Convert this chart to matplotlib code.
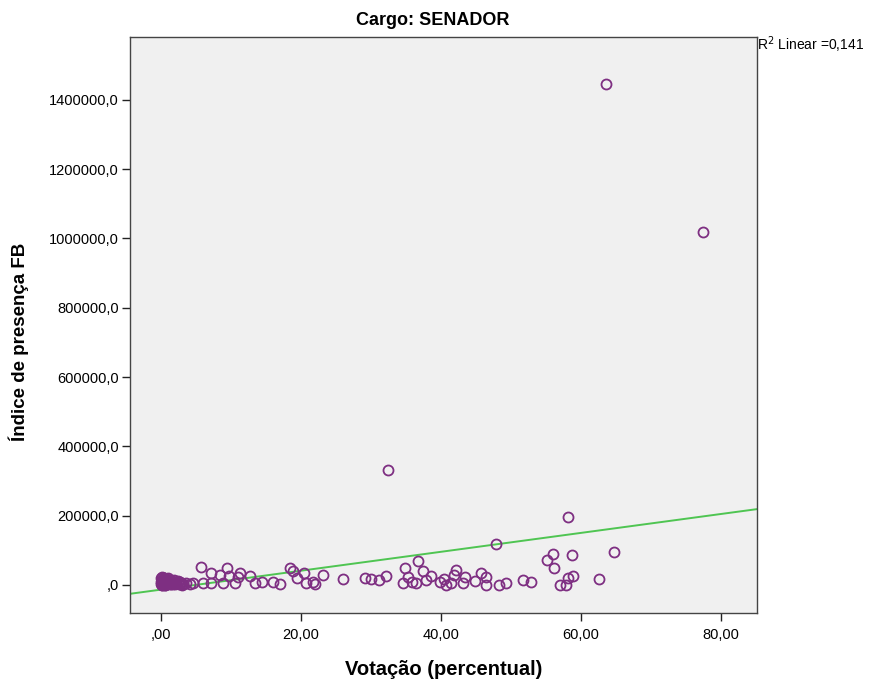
import matplotlib as mpl
mpl.use('Agg')
import matplotlib.pyplot as plt
import numpy as np
from matplotlib.ticker import FuncFormatter

plt.rcParams['font.family'] = ['Liberation Sans', 'DejaVu Sans']

# votacao (%) x indice de presenca FB, candidatos a senador
# grupo denso perto de zero
votos_baixos = [0.05, 0.1, 0.15, 0.2, 0.25, 0.3, 0.35, 0.4, 0.45, 0.5,
                0.55, 0.6, 0.7, 0.8, 0.9, 1.0, 1.1, 1.2, 1.3, 1.4,
                1.5, 1.6, 1.7, 1.8, 2.0, 2.2, 2.4, 0.1, 0.2, 0.3,
                0.4, 0.5, 0.6, 0.8, 1.0, 1.2, 0.15, 0.35, 0.55, 0.75,
                2.6, 2.9, 3.2, 3.6, 4.1, 1.9, 2.1, 2.5, 2.8, 3.0]
indice_baixo = [3000, 9000, 15000, 1000, 12000, 6000, 18000, 2000, 10000, 5000,
                14000, 500, 8000, 16000, 3000, 11000, 6000, 13000, 1500, 9000,
                4000, 12000, 7000, 2500, 10000, 5000, 8000, 20000, 22000, 4000,
                19000, 21000, 9000, 17000, 19000, 15000, 0, 7000, 1000, 11000,
                4000, 6000, 3000, 5000, 4000, 14000, 2000, 11000, 9000, 1000]

# demais candidatos
votos = [5.8, 7.2, 9.4, 8.4, 9.8, 11.3, 11.0, 12.7, 10.6, 8.9,
         7.2, 6.0, 4.6, 13.4, 14.4, 16.0, 17.0, 18.4, 18.9, 20.5,
         19.4, 20.8, 21.7, 22.0, 23.1, 26.0, 29.1, 30.0, 31.2, 32.1,
         34.8, 36.7, 37.4, 35.3, 34.6, 35.8, 36.5, 37.9, 38.6, 39.8,
         40.5, 40.7, 41.5, 42.2, 41.9, 43.4, 43.1, 44.8, 45.7, 46.4,
         46.4, 48.3, 49.3, 51.7, 52.9, 47.9, 58.2, 64.7, 62.6, 55.1,
         56.0, 56.2, 58.7, 57.0, 57.9, 58.2, 58.9, 63.6, 77.4, 32.4]
indice = [51100, 35500, 48200, 28900, 26000, 35500, 24000, 26000, 4900, 6600,
          6600, 6600, 4900, 4900, 9500, 9500, 2900, 48200, 41300, 33800,
          19300, 4900, 9500, 2000, 28900, 16500, 19300, 16500, 14400, 26000,
          48200, 70100, 41300, 24000, 4900, 9500, 6600, 14400, 26000, 9500,
          16500, 0, 4900, 43300, 28900, 24000, 6600, 12400, 33800, 24000,
          0, 0, 6600, 14400, 9500, 117500, 197200, 94400, 17300, 72200,
          88600, 49900, 86600, 0, 0, 21100, 26000, 1446000, 1019000, 332000]

x = np.array(votos_baixos + votos)
y = np.array(indice_baixo + indice)

fig = plt.figure(figsize=(8.74, 6.81), dpi=100)
ax = fig.add_axes([0.1487, 0.0999, 0.7173, 0.8458])
ax.set_facecolor('#f0f0f0')

ax.plot(x, y, 'o', markersize=7.2, markerfacecolor='none',
        markeredgecolor='#7e2f82', markeredgewidth=1.3, zorder=3)

# reta de ajuste linear
b, a = np.polyfit(x, y, 1)
xl = np.array([-4.4, 85.1])
ax.plot(xl, a + b * xl, color='#4fc552', linewidth=1.4, zorder=2)

ax.set_xlim(-4.4, 85.1)
ax.set_ylim(-80800, 1581500)
ax.set_xticks([0, 20, 40, 60, 80])
ax.set_yticks([0, 200000, 400000, 600000, 800000, 1000000, 1200000, 1400000])
ax.xaxis.set_major_formatter(FuncFormatter(
    lambda v, p: ',00' if v == 0 else ('%.2f' % v).replace('.', ',')))
ax.yaxis.set_major_formatter(FuncFormatter(
    lambda v, p: ',0' if v == 0 else ('%.1f' % v).replace('.', ',')))
ax.tick_params(labelsize=10.5, length=6, width=1, color='#222222', pad=2)
ax.tick_params(axis='x', pad=5)

for s in ax.spines.values():
    s.set_color('#444444')
    s.set_linewidth(1.0)

fig.text(0.495, 0.970, 'Cargo: SENADOR', fontsize=13, fontweight='bold',
         ha='center', va='center')
ax.set_xlabel('Votação (percentual)', fontsize=14.5, fontweight='bold', labelpad=13)
fig.text(0.022, 1 - 342 / 681, 'Índice de presença FB', fontsize=13.5, fontweight='bold',
         rotation=90, ha='center', va='center')

fig.text(0.866, 0.934, 'R$^2$ Linear =0,141', fontsize=10, ha='left', va='center')

plt.savefig('out.png', dpi=100)
plt.close()
